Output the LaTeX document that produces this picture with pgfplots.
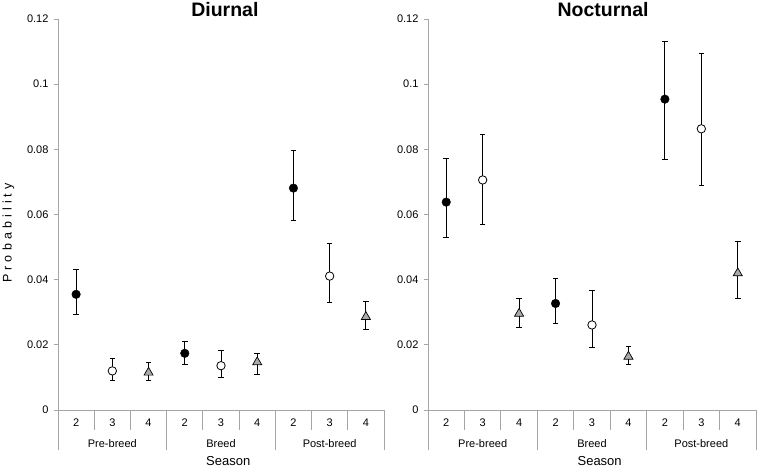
\documentclass[border=0pt]{standalone}
\usepackage{fontspec}
\setmainfont{Liberation Sans}
\usepackage{pgfplots}
\pgfplotsset{compat=1.18}
\definecolor{axgray}{RGB}{165,165,165}
\definecolor{trigray}{RGB}{170,170,170}
\pgfplotsset{
  /pgfplots/error bars/error mark=-,
  /pgfplots/error bars/error mark options={rotate=90, mark size=2.8pt, draw=black, line width=0.8pt},
  /pgfplots/error bars/error bar style={draw=black, line width=0.8pt},
  panel/.style={
    scale only axis, height=391pt,
    xmin=0, xmax=9, ymin=0, ymax=0.12,
    axis lines*=left,
    axis line style={draw=axgray, line width=0.8pt},
    xtick=\empty,
    ytick={0,0.02,0.04,0.06,0.08,0.1,0.12},
    scaled y ticks=false,
    tick align=outside, major tick length=4pt,
    every tick/.style={draw=axgray, line width=0.8pt},
    yticklabel style={font=\fontsize{11}{13}\selectfont, xshift=-2pt,
      /pgf/number format/fixed, /pgf/number format/precision=2,
      /pgf/number format/assume math mode=true},
    clip=false,
    title style={font=\bfseries\fontsize{19.5}{22}\selectfont, anchor=base, yshift=-4pt},
  },
  filled/.style={mark=*, mark size=4.3pt, mark options={fill=black, draw=black}},
  open/.style={mark=*, mark size=4.2pt, mark options={fill=white, draw=black, line width=0.8pt}},
  tri/.style={mark=triangle*, mark size=5.2pt, mark options={fill=trigray, draw=black, line width=0.7pt}},
}
\newcommand{\xlabels}[1]{%
  \draw[axgray, line width=0.8pt] (axis cs:1,0) -- ++(0,-20pt);
  \draw[axgray, line width=0.8pt] (axis cs:2,0) -- ++(0,-20pt);
  \draw[axgray, line width=0.8pt] (axis cs:4,0) -- ++(0,-20pt);
  \draw[axgray, line width=0.8pt] (axis cs:5,0) -- ++(0,-20pt);
  \draw[axgray, line width=0.8pt] (axis cs:7,0) -- ++(0,-20pt);
  \draw[axgray, line width=0.8pt] (axis cs:8,0) -- ++(0,-20pt);
  \draw[axgray, line width=0.8pt] (axis cs:0,0) -- ++(0,-40pt);
  \draw[axgray, line width=0.8pt] (axis cs:3,0) -- ++(0,-40pt);
  \draw[axgray, line width=0.8pt] (axis cs:6,0) -- ++(0,-40pt);
  \draw[axgray, line width=0.8pt] (axis cs:9,0) -- ++(0,-40pt);
  \node[anchor=base, yshift=-16.7pt, font=\fontsize{11}{13}\selectfont] at (axis cs:0.5,0) {2};
  \node[anchor=base, yshift=-16.7pt, font=\fontsize{11}{13}\selectfont] at (axis cs:1.5,0) {3};
  \node[anchor=base, yshift=-16.7pt, font=\fontsize{11}{13}\selectfont] at (axis cs:2.5,0) {4};
  \node[anchor=base, yshift=-16.7pt, font=\fontsize{11}{13}\selectfont] at (axis cs:3.5,0) {2};
  \node[anchor=base, yshift=-16.7pt, font=\fontsize{11}{13}\selectfont] at (axis cs:4.5,0) {3};
  \node[anchor=base, yshift=-16.7pt, font=\fontsize{11}{13}\selectfont] at (axis cs:5.5,0) {4};
  \node[anchor=base, yshift=-16.7pt, font=\fontsize{11}{13}\selectfont] at (axis cs:6.5,0) {2};
  \node[anchor=base, yshift=-16.7pt, font=\fontsize{11}{13}\selectfont] at (axis cs:7.5,0) {3};
  \node[anchor=base, yshift=-16.7pt, font=\fontsize{11}{13}\selectfont] at (axis cs:8.5,0) {4};
  \node[anchor=base, yshift=-37pt, font=\fontsize{11}{13}\selectfont] at (axis cs:1.5,0) {Pre-breed};
  \node[anchor=base, yshift=-37pt, font=\fontsize{11}{13}\selectfont] at (axis cs:4.5,0) {Breed};
  \node[anchor=base, yshift=-37pt, font=\fontsize{11}{13}\selectfont] at (axis cs:7.5,0) {Post-breed};
  \node[anchor=base, yshift=-55pt, font=\fontsize{13}{15}\selectfont] at (axis cs:#1,0) {Season};
}
\begin{document}
\begin{tikzpicture}
% ---------------- Diurnal ----------------
\begin{axis}[panel, width=326pt, at={(58pt,59pt)}, anchor=south west,
  title={Diurnal}, title style={at={(axis description cs:0.512,1)}}]
\addplot[filled, only marks, error bars/.cd, y dir=both, y explicit] table[x=x, y=y, y error plus=ep, y error minus=em, row sep=\\]{
x y ep em \\
0.5 0.0355 0.0077 0.0061 \\
3.5 0.0174 0.0037 0.0033 \\
6.5 0.0681 0.0115 0.0098 \\
};
\addplot[open, only marks, error bars/.cd, y dir=both, y explicit] table[x=x, y=y, y error plus=ep, y error minus=em, row sep=\\]{
x y ep em \\
1.5 0.0120 0.0039 0.0028 \\
4.5 0.0136 0.0046 0.0036 \\
7.5 0.0411 0.0101 0.0080 \\
};
\addplot[tri, only marks, error bars/.cd, y dir=both, y explicit] table[x=x, y=y, y error plus=ep, y error minus=em, row sep=\\]{
x y ep em \\
2.5 0.0115 0.0030 0.0023 \\
5.5 0.0147 0.0026 0.0037 \\
8.5 0.0286 0.0046 0.0038 \\
};
\xlabels{4.7}
\end{axis}
% ---------------- Nocturnal ----------------
\begin{axis}[panel, width=328pt, at={(428pt,59pt)}, anchor=south west,
  title={Nocturnal}, title style={at={(axis description cs:0.534,1)}}]
\addplot[filled, only marks, error bars/.cd, y dir=both, y explicit] table[x=x, y=y, y error plus=ep, y error minus=em, row sep=\\]{
x y ep em \\
0.5 0.0638 0.0134 0.0109 \\
3.5 0.0327 0.0076 0.0062 \\
6.5 0.0954 0.0177 0.0184 \\
};
\addplot[open, only marks, error bars/.cd, y dir=both, y explicit] table[x=x, y=y, y error plus=ep, y error minus=em, row sep=\\]{
x y ep em \\
1.5 0.0706 0.0141 0.0135 \\
4.5 0.0261 0.0107 0.0070 \\
7.5 0.0863 0.0232 0.0173 \\
};
\addplot[tri, only marks, error bars/.cd, y dir=both, y explicit] table[x=x, y=y, y error plus=ep, y error minus=em, row sep=\\]{
x y ep em \\
2.5 0.0296 0.0046 0.0042 \\
5.5 0.0164 0.0030 0.0023 \\
8.5 0.0420 0.0096 0.0078 \\
};
\xlabels{4.71}
\end{axis}
\node[rotate=90, font=\fontsize{12.5}{15}\selectfont\addfontfeature{LetterSpace=33}] at (8.5pt,236pt) {Probability};
\pgfresetboundingbox
\useasboundingbox (0,0) rectangle (760pt,469pt);
\end{tikzpicture}
\end{document}
